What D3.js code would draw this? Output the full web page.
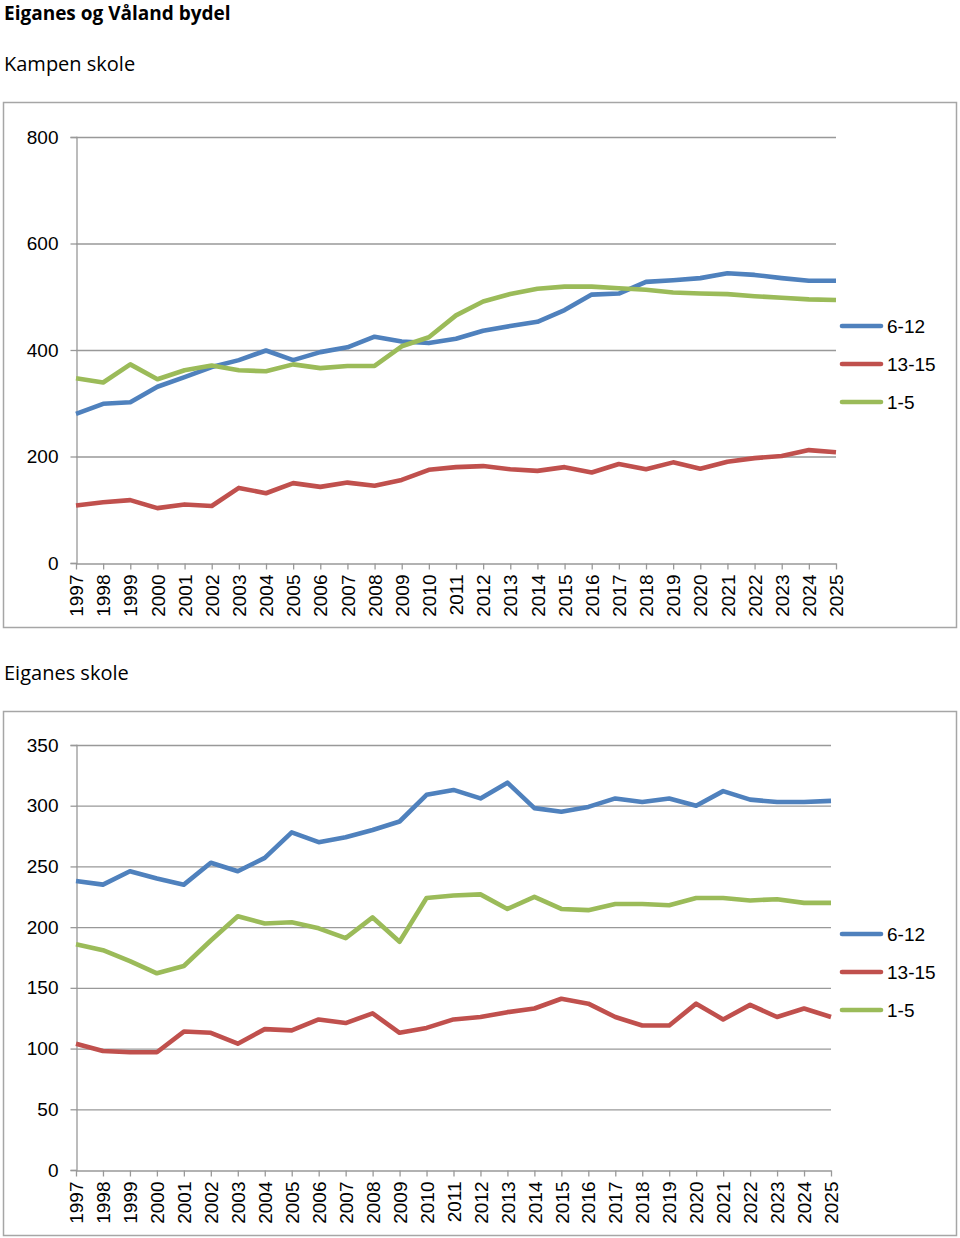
<!DOCTYPE html>
<html><head><meta charset="utf-8">
<script src="https://cdn.jsdelivr.net/npm/d3@7"></script>
<style>body{margin:0;background:#fff}svg{display:block}</style>
</head><body>
<script>
const years = ["1997","1998","1999","2000","2001","2002","2003","2004","2005","2006","2007","2008","2009","2010","2011","2012","2013","2014","2015","2016","2017","2018","2019","2020","2021","2022","2023","2024","2025"];
const seriesNames = ["6-12","13-15","1-5"];
const seriesColors = ["#4F81BD","#C0504D","#9BBB59"];

const kampen612 = [280,299,302,331,349,368,381,399,381,396,405,425,416,413,421,436,445,453,475,504,506,528,531,535,544,541,535,530,530];
const kampen1315 = [108,114,118,103,110,107,141,131,150,143,151,145,156,175,180,182,176,173,180,170,186,176,189,177,190,197,201,212,208];
const kampen15 = [347,339,373,345,362,371,362,360,373,366,370,370,407,424,465,491,505,515,519,519,516,513,508,506,505,501,498,495,494];
const kampenTicks = [0,200,400,600,800];

const eiganes612 = [238,235,246,240,235,253,246,257,278,270,274,280,287,309,313,306,319,298,295,299,306,303,306,300,312,305,303,303,304];
const eiganes1315 = [104,98,97,97,114,113,104,116,115,124,121,129,113,117,124,126,130,133,141,137,126,119,119,137,124,136,126,133,126];
const eiganes15 = [186,181,172,162,168,189,209,203,204,199,191,208,188,224,226,227,215,225,215,214,219,219,218,224,224,222,223,220,220];
const eiganesTicks = [0,50,100,150,200,250,300,350];

const W = 960, H = 1238;
const svg = d3.select("body").append("svg").attr("width", W).attr("height", H);
const font = "'Liberation Sans', Arial, sans-serif";
const font2 = "'Open Sans', 'Noto Sans', sans-serif";

svg.append("text").attr("x", 4).attr("y", 20).attr("font-family", font2)
  .attr("font-weight", "bold").attr("font-size", 19).attr("fill", "#000").text("Eiganes og Våland bydel");
svg.append("text").attr("x", 4).attr("y", 71).attr("font-family", font2)
  .attr("font-size", 20).attr("fill", "#000").text("Kampen skole");
svg.append("text").attr("x", 4).attr("y", 680).attr("font-family", font2)
  .attr("font-size", 20).attr("fill", "#000").text("Eiganes skole");

function drawChart(cfg) {
  const g = svg.append("g");
  g.append("rect").attr("x", 3.5).attr("y", cfg.frameTop + 0.5).attr("width", 953)
    .attr("height", cfg.frameBottom - cfg.frameTop).attr("fill", "none")
    .attr("stroke", "#a6a6a6").attr("stroke-width", 1.5);

  const x = d3.scalePoint().domain(years).range([cfg.x0, cfg.x1]);
  const y = d3.scaleLinear().domain([0, cfg.ymax]).range([cfg.yBottom, cfg.yTop]);

  g.append("g").selectAll("line").data(cfg.ticks.filter(d => d > 0)).join("line")
    .attr("x1", cfg.x0).attr("x2", cfg.x1)
    .attr("y1", d => y(d) + 0.5).attr("y2", d => y(d) + 0.5)
    .attr("stroke", "#999").attr("stroke-width", 1.3);

  const ya = g.append("g").attr("transform", `translate(${cfg.x0 + 0.5},0)`)
    .call(d3.axisLeft(y).tickValues(cfg.ticks).tickSize(6).tickPadding(12).tickFormat(d3.format("d")));
  ya.select(".domain").attr("stroke", "#999").attr("stroke-width", 1.3);
  ya.selectAll(".tick line").attr("stroke", "#999").attr("stroke-width", 1.3);
  ya.selectAll(".tick text").attr("font-family", font).attr("font-size", 19).attr("fill", "#000");

  const xa = g.append("g").attr("transform", `translate(0,${cfg.yBottom + 0.5})`)
    .call(d3.axisBottom(x).tickSize(6).tickSizeOuter(0).tickPadding(0));
  xa.select(".domain").attr("stroke", "#999").attr("stroke-width", 1.3);
  xa.selectAll(".tick line").attr("stroke", "#999").attr("stroke-width", 1.3);
  xa.selectAll(".tick text").attr("font-family", font).attr("font-size", 19).attr("fill", "#000")
    .attr("transform", "rotate(-90)").attr("text-anchor", "end").attr("x", -11).attr("y", 0)
    .attr("dy", "0.35em");

  const line = d3.line().x((d, i) => x(years[i])).y(d => y(d));
  cfg.data.forEach((s, k) => {
    g.append("path").datum(s).attr("d", line).attr("fill", "none")
      .attr("stroke", seriesColors[k]).attr("stroke-width", 4.6)
      .attr("stroke-linejoin", "round").attr("stroke-linecap", "butt");
  });

  seriesNames.forEach((n, k) => {
    const ly = cfg.legendY + k * 38;
    g.append("line").attr("x1", 842).attr("x2", 881).attr("y1", ly).attr("y2", ly)
      .attr("stroke", seriesColors[k]).attr("stroke-width", 4.6).attr("stroke-linecap", "round");
    g.append("text").attr("x", 887).attr("y", ly).attr("dy", "0.35em")
      .attr("font-family", font).attr("font-size", 19).attr("fill", "#000").text(n);
  });
}

drawChart({frameTop: 102, frameBottom: 627, x0: 76, x1: 836, yTop: 137, yBottom: 563, ymax: 800,
  ticks: kampenTicks, data: [kampen612, kampen1315, kampen15], legendY: 326});
drawChart({frameTop: 711, frameBottom: 1235, x0: 76, x1: 831, yTop: 745, yBottom: 1170, ymax: 350,
  ticks: eiganesTicks, data: [eiganes612, eiganes1315, eiganes15], legendY: 934});
</script>
</body></html>
